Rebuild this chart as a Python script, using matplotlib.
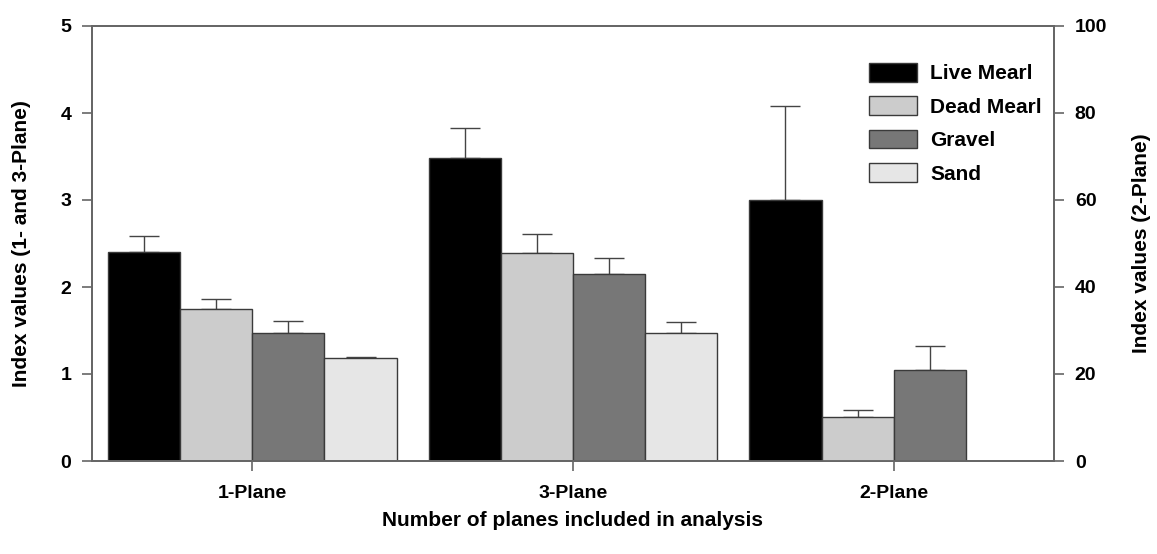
import matplotlib
matplotlib.use("Agg")
import matplotlib.pyplot as plt
import numpy as np
from matplotlib.patches import Patch

plt.rcParams['font.family'] = ['Liberation Sans', 'DejaVu Sans']
plt.rcParams['font.weight'] = 'bold'

groups = ["1-Plane", "3-Plane", "2-Plane"]
series = ["Live Mearl", "Dead Mearl", "Gravel", "Sand"]
colors = ["#000000", "#cccccc", "#777777", "#e6e6e6"]

# Left axis values (1- and 3-Plane)
left_vals = {
    "Live Mearl": [2.40, 3.48],
    "Dead Mearl": [1.75, 2.39],
    "Gravel":     [1.47, 2.15],
    "Sand":       [1.18, 1.47],
}
left_err = {
    "Live Mearl": [0.19, 0.35],
    "Dead Mearl": [0.11, 0.22],
    "Gravel":     [0.14, 0.18],
    "Sand":       [0.02, 0.13],
}
# Right axis values (2-Plane)
right_vals = {"Live Mearl": 60.0, "Dead Mearl": 10.1, "Gravel": 21.0}
right_err = {"Live Mearl": 21.6, "Dead Mearl": 1.6, "Gravel": 5.5}

fig = plt.figure(figsize=(11.57, 5.54), dpi=100)
ax = fig.add_axes([92/1157, 1 - 461/554, (1054 - 92)/1157, (461 - 26)/554])
ax2 = ax.twinx()

width = 0.225
x = np.arange(len(groups))
edge = "#3a3a3a"
errkw = dict(fmt="none", ecolor="#444444", elinewidth=1.0, capsize=11, capthick=1.0)

for i, s in enumerate(series):
    off = (i - 1.5) * width
    xs = x[:2] + off
    ax.bar(xs, left_vals[s], width, color=colors[i], edgecolor=edge, linewidth=1.0, zorder=2)
    ax.errorbar(xs, left_vals[s], yerr=[np.zeros(2), left_err[s]], zorder=1, **errkw)
    if s in right_vals:
        xr = x[2] + off
        ax2.bar([xr], [right_vals[s]], width, color=colors[i], edgecolor=edge, linewidth=1.0, zorder=2)
        ax2.errorbar([xr], [right_vals[s]], yerr=[[0], [right_err[s]]], zorder=1, **errkw)

ax.set_xlim(-0.5, 2.5)
ax.set_ylim(0, 5)
ax2.set_ylim(0, 100)
ax.set_yticks(range(0, 6))
ax2.set_yticks(range(0, 101, 20))
ax.set_xticks(x)
ax.set_xticklabels(groups)

for a in (ax, ax2):
    for sp in a.spines.values():
        sp.set_color("#666666")
        sp.set_linewidth(1.3)
    a.tick_params(direction='out', length=7, width=1.2, color="#666666", labelsize=14, pad=8)
ax.tick_params(axis='x', pad=10)

ax.set_ylabel("Index values (1- and 3-Plane)", fontsize=15, fontweight='bold', labelpad=21)
ax2.set_ylabel("Index values (2-Plane)", fontsize=15, fontweight='bold', labelpad=18)
ax.set_xlabel("Number of planes included in analysis", fontsize=15, fontweight='bold', labelpad=7)

handles = [Patch(facecolor=c, edgecolor=edge, linewidth=1.0) for c in colors]
fig.legend(handles, series, loc='upper left', bbox_to_anchor=(869/1157, 1 - 63/554),
           frameon=False, fontsize=15, handlelength=2.3, handleheight=1.0,
           labelspacing=0.62, handletextpad=0.65, borderpad=0, borderaxespad=0)

fig.savefig("out.png", dpi=100)
